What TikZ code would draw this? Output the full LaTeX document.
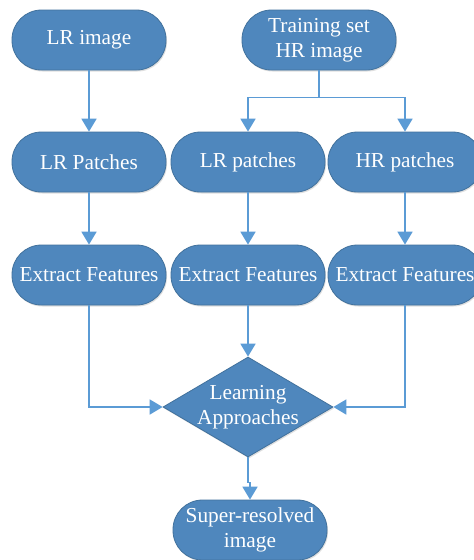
\documentclass[tikz,border=0pt]{standalone}
\usepackage{fontspec}
\setmainfont{Liberation Serif}
\usetikzlibrary{shapes.geometric,arrows.meta,shadows}
\definecolor{boxfill}{RGB}{79,135,189}
\definecolor{boxline}{RGB}{65,113,156}
\definecolor{arrowc}{RGB}{91,155,213}
\begin{document}
\begin{tikzpicture}[x=1pt,y=-1pt,
  pill/.style={rectangle, rounded corners=29.5pt, draw=boxline, line width=0.8pt, fill=boxfill,
    minimum width=154pt, minimum height=60pt, inner sep=0pt, text=white, align=center,
    font=\fontsize{21.3}{25.5}\selectfont,
    drop shadow={opacity=0.25, shadow xshift=1pt, shadow yshift=-1.5pt}},
  decision/.style={diamond, draw=boxline, line width=0.8pt, fill=boxfill,
    minimum width=170pt, minimum height=100pt, inner sep=0pt,
    drop shadow={opacity=0.25, shadow xshift=1pt, shadow yshift=-1.5pt}},
  dtext/.style={text=white, align=center, font=\fontsize{21.3}{25.5}\selectfont, inner sep=0pt},
  arr/.style={draw=arrowc, line width=1.8pt, -{Triangle[width=15pt,length=13pt]}},
  conn/.style={draw=arrowc, line width=1.8pt}
]
\useasboundingbox (0,0) rectangle (474,560);
\fill[white] (0,0) rectangle (474,560);

\node[pill] (lrimg) at (89,40) {LR image};
\node[pill] (train) at (319,40) {Training set\\HR image};

\node[pill] (lrP) at (89,162) {LR Patches};
\node[pill] (lrp) at (248,162) {LR patches};
\node[pill] (hrp) at (405,162) {HR patches};

\node[pill] (ef1) at (89,275) {Extract Features};
\node[pill] (ef2) at (248,275) {Extract Features};
\node[pill] (ef3) at (405,275) {Extract Features};

\node[decision] (learn) at (248,407) {};
\node[dtext] (learntxt) at (248,407) {Learning\\Approaches};

\node[pill] (sr) at (250,530) {Super-resolved\\image};

\draw[arr] (lrimg.south) -- (lrP.north);
\draw[conn] (train.south) -- ++(0,27) coordinate (split);
\draw[arr] (split) -| (lrp.north);
\draw[arr] (split) -| (hrp.north);

\draw[arr] (lrP.south) -- (ef1.north);
\draw[arr] (lrp.south) -- (ef2.north);
\draw[arr] (hrp.south) -- (ef3.north);

\draw[arr] (ef1.south) |- (learn.west);
\draw[arr] (ef2.south) -- (learn.north);
\draw[arr] (ef3.south) |- (learn.east);

\draw[arr] (learn.south) -- ++(0,25) coordinate (jog) -| (sr.north);
\end{tikzpicture}
\end{document}
